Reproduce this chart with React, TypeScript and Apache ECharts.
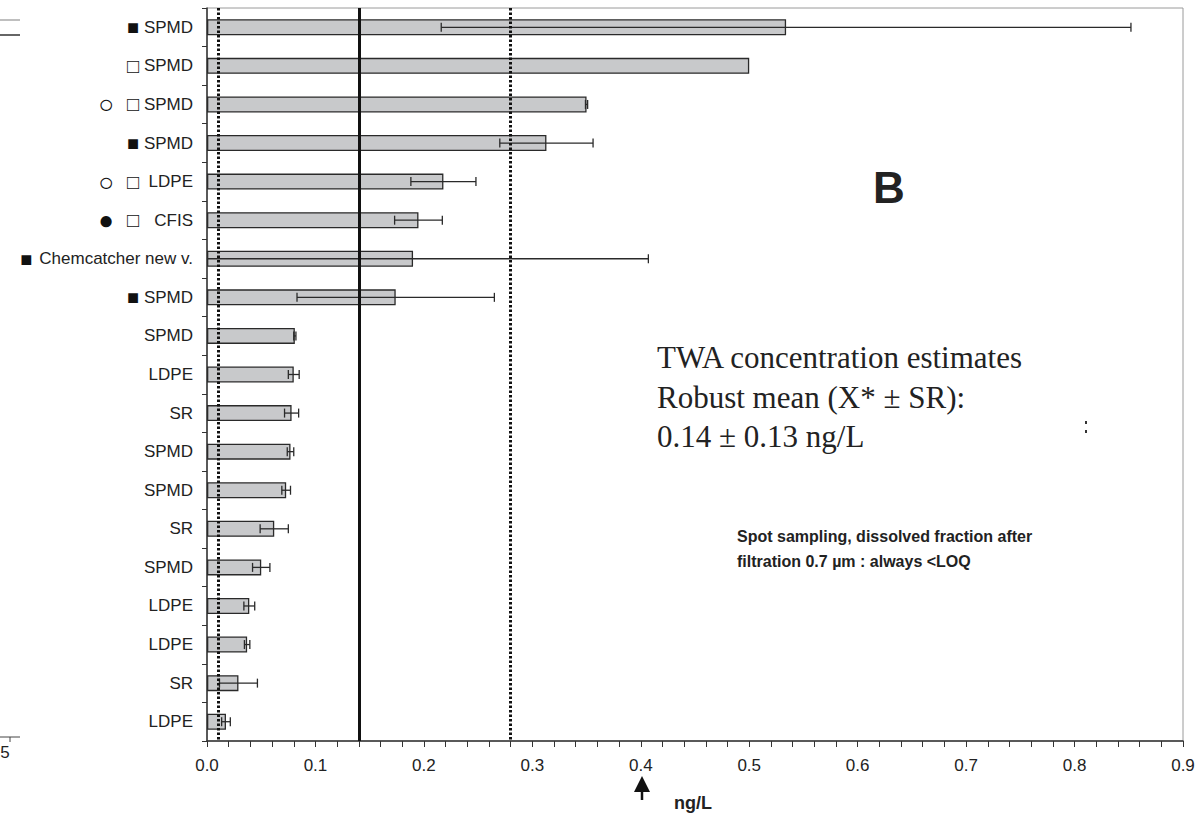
import React, { useEffect, useRef } from "react";
import * as echarts from "echarts";

// ---- data (top to bottom) ----
const categories = [
  "SPMD", "SPMD", "SPMD", "SPMD", "LDPE", "CFIS", "Chemcatcher new v.", "SPMD",
  "SPMD", "LDPE", "SR", "SPMD", "SPMD", "SR", "SPMD", "LDPE", "LDPE", "SR", "LDPE",
];
// marker codes: F = filled square, O = open square, CO = open circle + open square, BO = filled circle + open square
const markers = ["F", "O", "CO", "F", "CO", "BO", "F", "F", "", "", "", "", "", "", "", "", "", "", ""];
const values = [
  0.534, 0.5, 0.35, 0.313, 0.218, 0.195, 0.19, 0.174,
  0.081, 0.08, 0.078, 0.077, 0.073, 0.062, 0.05, 0.039, 0.037, 0.029, 0.0175,
];
const errors = [
  0.318, 0, 0.001, 0.043, 0.03, 0.022, 0.217, 0.091,
  0.001, 0.005, 0.0065, 0.003, 0.004, 0.013, 0.008, 0.005, 0.0025, 0.0175, 0.004,
];
const xTicks = [0, 0.1, 0.2, 0.3, 0.4, 0.5, 0.6, 0.7, 0.8, 0.9];
const robustMean = 0.145;
const lowerLimit = 0.011;
const upperLimit = 0.28;

const SANS = "'Liberation Sans', Arial, Helvetica, sans-serif";
const SERIF = "'Liberation Serif', 'Times New Roman', serif";

function labelFor(name: string, idx: number): string {
  const m = markers[idx];
  if (name.length > 10) return `{sq|■}{t2|${name}}`;
  if (m === "F") return `{sq|■}{t|${name}}`;
  if (m === "O") return `{sq|□}{t|${name}}`;
  if (m === "CO") return `{ci|○}{sp| }{sq|□}{t|${name}}`;
  if (m === "BO") return `{ci|●}{sp| }{sq|□}{t|${name}}`;
  return `{t|${name}}`;
}

export default function App() {
  const ref = useRef<HTMLDivElement>(null);
  useEffect(() => {
    if (!ref.current) return;
    const chart = echarts.init(ref.current, undefined, { renderer: "svg" });
    const errData = values.map((v, i) => [v, errors[i], i]);
    const txt = (x: number, y: number, text: string, size: number, family: string, bold = false) => ({
      type: "text",
      x,
      y,
      style: {
        text,
        fontSize: size,
        fontFamily: family,
        fontWeight: bold ? "bold" : "normal",
        fill: "#222",
        verticalAlign: "middle",
      },
    });
    const option: any = {
      animation: false,
      backgroundColor: "#ffffff",
      grid: {
        left: 207,
        right: 17,
        top: 8,
        bottom: 75,
        show: true,
        borderColor: "#9a9a9a",
        borderWidth: 1,
      },
      xAxis: {
        type: "value",
        min: 0,
        max: 0.9,
        interval: 0.1,
        axisLine: { show: true, lineStyle: { color: "#333", width: 1.5 } },
        axisTick: { show: true, length: 6, lineStyle: { color: "#333", width: 1 } },
        minorTick: { show: true, splitNumber: 5, length: 6, lineStyle: { color: "#333", width: 1 } },
        splitLine: { show: false },
        axisLabel: {
          formatter: (v: number) => (xTicks.includes(Math.round(v * 10) / 10) ? v.toFixed(1) : ""),
          fontSize: 17,
          fontFamily: SANS,
          color: "#222",
          margin: 16,
        },
      },
      yAxis: {
        type: "category",
        inverse: true,
        data: categories,
        axisLine: { show: true, lineStyle: { color: "#333", width: 1.5 } },
        axisTick: { show: true, length: 5, lineStyle: { color: "#333", width: 1 } },
        axisLabel: {
          margin: 14,
          formatter: (v: string, i: number) => labelFor(v, i),
          rich: {
            t: { fontSize: 17, fontFamily: SANS, color: "#222", width: 53, align: "right", lineHeight: 20 },
            t2: { fontSize: 17, fontFamily: SANS, color: "#222", padding: [0, 0, 0, 6], lineHeight: 20 },
            sq: { fontSize: 20, fontFamily: SANS, color: "#111", width: 14, align: "center", lineHeight: 20 },
            ci: { fontSize: 26, fontFamily: SANS, color: "#111", width: 16, align: "center", lineHeight: 20 },
            sp: { fontSize: 17, width: 12, lineHeight: 20 },
          },
        },
      },
      series: [
        {
          type: "bar",
          data: values,
          barWidth: 16,
          itemStyle: { color: "#c8c9cb", borderColor: "#2a2a2a", borderWidth: 1.3 },
          z: 2,
          markLine: {
            silent: true,
            symbol: "none",
            label: { show: false },
            data: [
              { xAxis: lowerLimit, lineStyle: { color: "#111", width: 3, type: [2.5, 2] } },
              { xAxis: robustMean, lineStyle: { color: "#111", width: 3, type: "solid" } },
              { xAxis: upperLimit, lineStyle: { color: "#111", width: 3, type: [2.5, 2] } },
            ],
          },
        },
        {
          type: "custom",
          z: 4,
          data: errData,
          encode: { x: 0, y: 2 },
          renderItem: (params: any, api: any) => {
            const v = api.value(0);
            const e = api.value(1);
            const idx = api.value(2);
            if (!e) return null;
            const loRaw = v - e;
            const lo = Math.max(0, loRaw);
            const hi = v + e;
            const p1 = api.coord([lo, idx]);
            const p2 = api.coord([hi, idx]);
            const cap = 4.5;
            const style = { stroke: "#2a2a2a", lineWidth: 1.3 };
            const children: any[] = [
              { type: "line", shape: { x1: p1[0], y1: p1[1], x2: p2[0], y2: p2[1] }, style },
              { type: "line", shape: { x1: p2[0], y1: p2[1] - cap, x2: p2[0], y2: p2[1] + cap }, style },
            ];
            if (loRaw >= 0) {
              children.push({
                type: "line",
                shape: { x1: p1[0], y1: p1[1] - cap, x2: p1[0], y2: p1[1] + cap },
                style,
              });
            }
            return { type: "group", children };
          },
        },
      ],
      graphic: [
        // remnants of neighbouring panel
        { type: "line", shape: { x1: 0, y1: 20, x2: 20, y2: 20 }, style: { stroke: "#aaa", lineWidth: 1.5 } },
        { type: "line", shape: { x1: 0, y1: 35, x2: 20, y2: 35 }, style: { stroke: "#333", lineWidth: 1.5 } },
        { type: "line", shape: { x1: 0, y1: 737, x2: 20, y2: 737 }, style: { stroke: "#444", lineWidth: 1 } },
        { type: "line", shape: { x1: 10, y1: 737, x2: 10, y2: 742 }, style: { stroke: "#444", lineWidth: 1 } },
        {
          type: "text",
          x: 5,
          y: 752,
          style: { text: "5", fontSize: 17, fontFamily: SANS, fill: "#222", align: "center", verticalAlign: "middle" },
        },
        // panel letter
        {
          type: "text",
          x: 889,
          y: 187,
          style: { text: "B", fontSize: 44, fontWeight: "bold", fontFamily: SANS, fill: "#222", align: "center", verticalAlign: "middle" },
        },
        // TWA annotation
        txt(657, 357, "TWA concentration estimates", 31, SERIF),
        txt(657, 397, "Robust mean (X* ± SR):", 31, SERIF),
        txt(657, 436, "0.14 ± 0.13 ng/L", 31, SERIF),
        // spot sampling note
        txt(737, 536, "Spot sampling, dissolved fraction after", 16, SANS, true),
        txt(737, 561, "filtration 0.7 µm : always <LOQ", 16, SANS, true),
        // stray marks
        { type: "rect", shape: { x: 1085, y: 421, width: 2, height: 3 }, style: { fill: "#333" } },
        { type: "rect", shape: { x: 1085, y: 430, width: 2, height: 3 }, style: { fill: "#333" } },
        // arrow under 0.4
        { type: "polygon", shape: { points: [[642, 776], [634, 792], [650, 792]] }, style: { fill: "#111" } },
        { type: "line", shape: { x1: 642, y1: 790, x2: 642, y2: 800 }, style: { stroke: "#111", lineWidth: 2.5 } },
        txt(674, 803, "ng/L", 18, SANS, true),
      ],
    };
    chart.setOption(option);
    return () => chart.dispose();
  }, []);
  return (
    <div
      ref={ref}
      style={{ position: "absolute", left: 0, top: 0, width: 1200, height: 816, background: "#fff" }}
    />
  );
}
